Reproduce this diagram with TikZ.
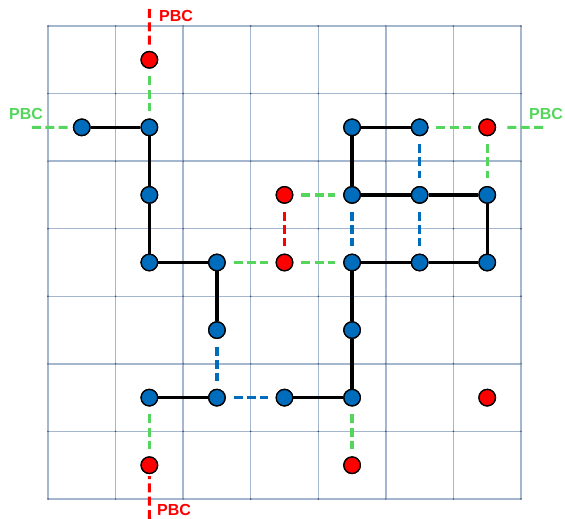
\documentclass[tikz,border=0pt]{standalone}
\usepackage{fontspec}
\setmainfont{Liberation Sans}
\definecolor{gridc}{RGB}{165,182,207}
\definecolor{gridd}{RGB}{60,70,90}
\definecolor{bluec}{RGB}{0,108,188}
\definecolor{redc}{RGB}{255,0,0}
\definecolor{greenc}{RGB}{84,214,92}
\begin{document}
\begin{tikzpicture}[x=1pt,y=-1pt,
  site/.style={circle,draw=black,line width=1.3pt,minimum size=16.5pt,inner sep=0pt},
  bsite/.style={site,fill=bluec},
  rsite/.style={site,fill=redc},
  bond/.style={line width=3.2pt,black},
  dlink/.style={line width=3.2pt,dash pattern=on 9pt off 4.3pt,shorten <=7.8pt,shorten >=7.8pt},
  glink/.style={dlink,greenc},
  blink/.style={dlink,bluec},
  rlink/.style={dlink,redc},
  pbc/.style={font=\fontsize{16}{18}\selectfont\bfseries,inner sep=0pt},
  gridline/.style={gridc,line width=1.5pt}]
\useasboundingbox (0,0) rectangle (565,519);
% grid
\foreach \k in {0,...,7}{
  \draw[gridline] ({48+67.571*\k},26) -- ({48+67.571*\k},499);
  \draw[gridline] (48,{26+67.571*\k}) -- (521,{26+67.571*\k});
}
\foreach \i in {0,...,7}{\foreach \j in {0,...,7}{
  \fill[gridd] ({48+67.571*\i},{26+67.571*\j}) circle (0.8pt);
}}
% site coordinates
\foreach \i/\j in {0/1,1/1,4/1,5/1,1/2,4/2,5/2,6/2,1/3,2/3,4/3,5/3,6/3,2/4,4/4,1/5,2/5,3/5,4/5,1/0,6/1,3/2,3/3,6/5,1/6,4/6}{
  \coordinate (c-\i-\j) at ({48+67.571*(\i+0.5)},{26+67.571*(\j+0.5)});
}
% free ends
\coordinate (pt) at (149.4,9);
\coordinate (pb) at (149.4,519);
\coordinate (pl) at (24,127.4);
\coordinate (pr) at (548,127.4);
% nodes
\foreach \i/\j in {0/1,1/1,4/1,5/1,1/2,4/2,5/2,6/2,1/3,2/3,4/3,5/3,6/3,2/4,4/4,1/5,2/5,3/5,4/5}{
  \node[bsite] (n-\i-\j) at (c-\i-\j) {};
}
\foreach \i/\j in {1/0,6/1,3/2,3/3,6/5,1/6,4/6}{
  \node[rsite] (n-\i-\j) at (c-\i-\j) {};
}
% solid bonds
\foreach \a/\b in {0-1/1-1,1-1/1-2,1-2/1-3,1-3/2-3,2-3/2-4,1-5/2-5,3-5/4-5,4-5/4-4,4-4/4-3,4-2/4-1,4-1/5-1,4-2/5-2,5-2/6-2,6-2/6-3,6-3/5-3,5-3/4-3}{
  \draw[bond] (n-\a) -- (n-\b);
}
% dashed links
\foreach \a/\b in {1-0/1-1,3-2/4-2,2-3/3-3,3-3/4-3,5-1/6-1,6-1/6-2,1-5/1-6,4-5/4-6}{
  \draw[glink] (n-\a) -- (n-\b);
}
\foreach \a/\b in {2-4/2-5,2-5/3-5,4-2/4-3,5-1/5-2,5-2/5-3}{
  \draw[blink] (n-\a) -- (n-\b);
}
\draw[rlink] (n-3-2) -- (n-3-3);
% PBC links
\draw[redc,line width=3.2pt,dash pattern=on 9pt off 4.3pt,shorten >=2pt] (pt) -- (n-1-0);
\draw[redc,line width=3.2pt,dash pattern=on 9pt off 4.3pt,shorten >=2pt] (pb) -- (n-1-6);
\draw[greenc,line width=3.2pt,dash pattern=on 9pt off 4.3pt,shorten <=8pt,shorten >=5pt] (pl) -- (n-0-1);
\draw[greenc,line width=3.2pt,dash pattern=on 9pt off 4.3pt,shorten >=8pt,shorten <=5pt] (pr) -- (n-6-1);
% redraw nodes on top
\foreach \i/\j in {0/1,1/1,4/1,5/1,1/2,4/2,5/2,6/2,1/3,2/3,4/3,5/3,6/3,2/4,4/4,1/5,2/5,3/5,4/5}{
  \node[bsite] at (c-\i-\j) {};
}
\foreach \i/\j in {1/0,6/1,3/2,3/3,6/5,1/6,4/6}{
  \node[rsite] at (c-\i-\j) {};
}
% labels
\node[pbc,text=redc] (lt) at (176,16) {PBC};
\node[pbc,text=redc] (lb) at (174,509.5) {PBC};
\node[pbc,text=greenc] (ll) at (26,113.5) {PBC};
\node[pbc,text=greenc] (lr) at (546,113.5) {PBC};
\end{tikzpicture}
\end{document}
